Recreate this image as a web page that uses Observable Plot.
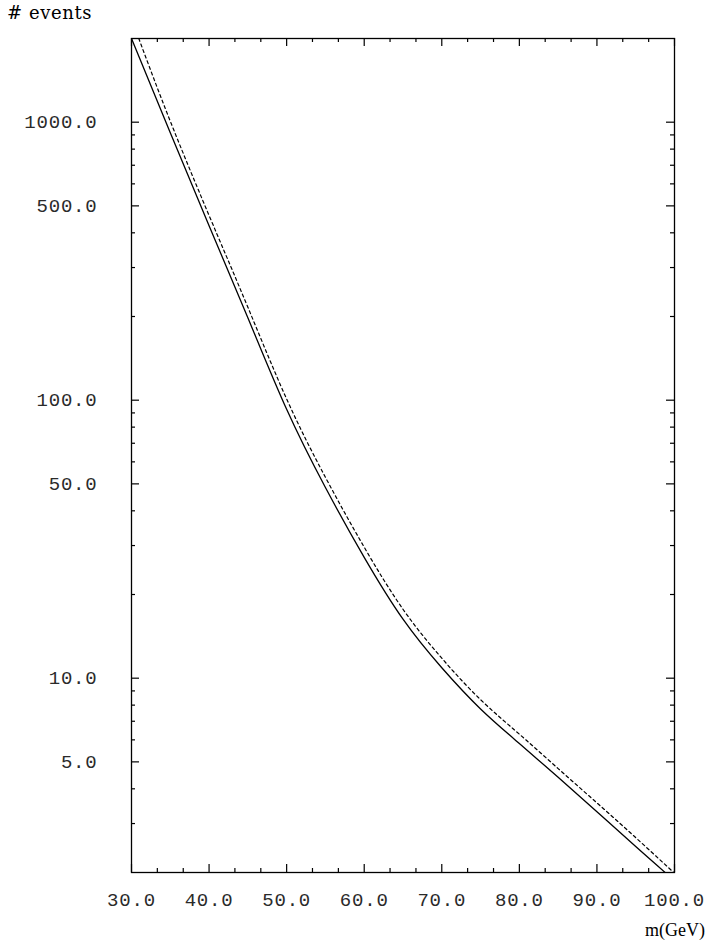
<!DOCTYPE html>
<html><head><meta charset="utf-8">
<script src="https://cdn.jsdelivr.net/npm/d3@7"></script>
<script src="https://cdn.jsdelivr.net/npm/@observablehq/plot@0.6"></script>
<style>
html,body{margin:0;padding:0;background:#fff;}
body{width:707px;height:942px;overflow:hidden;}
#ylab{height:30px;position:relative;font-family:"DejaVu Serif",serif;font-size:18px;color:#000;}
#ylab span{position:absolute;left:7px;top:2px;letter-spacing:0.6px;}
#chart{height:900px;}
#xlab{height:12px;position:relative;font-family:"Liberation Serif",serif;font-size:18px;color:#000;}
#xlab span{position:absolute;right:2px;top:-10px;white-space:nowrap;}
</style></head><body>
<div id="ylab"><span><i>#</i> events</span></div>
<div id="chart"></div>
<div id="xlab"><span>m(GeV)</span></div>
<script>
// ---- data ----
const massSolid   = [30, 35, 40, 45, 50, 55, 60, 65, 70, 75, 80, 85, 90, 95, 98.8];
const eventsSolid = [2000, 916, 424, 198, 92.7, 48.5, 27.2, 16.3, 10.9, 7.75, 5.82, 4.40, 3.31, 2.48, 2.0];
const massDashed   = [30.94, 35, 40, 45, 50, 55, 60, 65, 70, 75, 80, 85, 90, 95, 99.9];
const eventsDashed = [2000, 1008, 462, 216, 101, 52.8, 29.6, 17.7, 11.8, 8.37, 6.29, 4.73, 3.56, 2.67, 2.0];

const xTickValues = [30, 40, 50, 60, 70, 80, 90, 100];
const xTickLabels = ["30.0", "40.0", "50.0", "60.0", "70.0", "80.0", "90.0", "100.0"];
const xMinorTicks = [33.33, 36.67, 43.33, 46.67, 53.33, 56.67, 63.33, 66.67, 73.33, 76.67, 83.33, 86.67, 93.33, 96.67];
const yTickValues = [5, 10, 50, 100, 500, 1000];
const yTickLabels = ["5.0", "10.0", "50.0", "100.0", "500.0", "1000.0"];
const yMinorTicks = [3, 4, 6, 7, 8, 9, 20, 30, 40, 60, 70, 80, 90, 200, 300, 400, 600, 700, 800, 900];

// ---- layout ----
const W = 707, H = 900, ML = 131, MR = 33, MT = 8, MB = 58;
const plotW = W - ML - MR, plotH = H - MT - MB;
const MAJ = 8, MIN = 4;

const solid = massSolid.map((m, i) => ({m, n: eventsSolid[i]}));
const dashed = massDashed.map((m, i) => ({m, n: eventsDashed[i]}));

const tickFont = {fontFamily: "Liberation Mono", fontSize: 19, fill: "#2a2a2a"};
const tickStyle = {stroke: "#000", strokeWidth: 1.2};

const chart = Plot.plot({
  width: W, height: H,
  marginLeft: ML, marginRight: MR, marginTop: MT, marginBottom: MB,
  style: {background: "#fff", color: "#000", fontFamily: "Liberation Mono", fontSize: "19px", letterSpacing: "0.8px"},
  x: {domain: [30, 100]},
  y: {type: "log", domain: [2, 2000]},
  marks: [
    Plot.axisY(yTickValues, {anchor: "left", tickSize: 0, tickPadding: 34, label: null,
      tickFormat: d => yTickLabels[yTickValues.indexOf(d)], ...tickFont}),
    Plot.axisX(xTickValues, {anchor: "bottom", tickSize: 0, tickPadding: 20, label: null,
      tickFormat: d => xTickLabels[xTickValues.indexOf(d)], ...tickFont}),
    // inward ticks, left & right
    Plot.tickY(yTickValues, {y: d => d, insetRight: plotW - MAJ, ...tickStyle}),
    Plot.tickY(yTickValues, {y: d => d, insetLeft: plotW - MAJ, ...tickStyle}),
    Plot.tickY(yMinorTicks, {y: d => d, insetRight: plotW - MIN, ...tickStyle}),
    Plot.tickY(yMinorTicks, {y: d => d, insetLeft: plotW - MIN, ...tickStyle}),
    // inward ticks, bottom & top
    Plot.tickX(xTickValues, {x: d => d, insetTop: plotH - MAJ, ...tickStyle}),
    Plot.tickX(xTickValues, {x: d => d, insetBottom: plotH - MAJ, ...tickStyle}),
    Plot.tickX(xMinorTicks, {x: d => d, insetTop: plotH - MIN, ...tickStyle}),
    Plot.tickX(xMinorTicks, {x: d => d, insetBottom: plotH - MIN, ...tickStyle}),
    Plot.line(solid, {x: "m", y: "n", curve: "natural", stroke: "#000", strokeWidth: 1.3, clip: true}),
    Plot.line(dashed, {x: "m", y: "n", curve: "natural", stroke: "#000", strokeWidth: 1.2,
      strokeDasharray: "3,3", clip: true}),
    Plot.frame({stroke: "#000", strokeWidth: 1.3})
  ]
});
document.getElementById("chart").appendChild(chart);
</script>
</body></html>
